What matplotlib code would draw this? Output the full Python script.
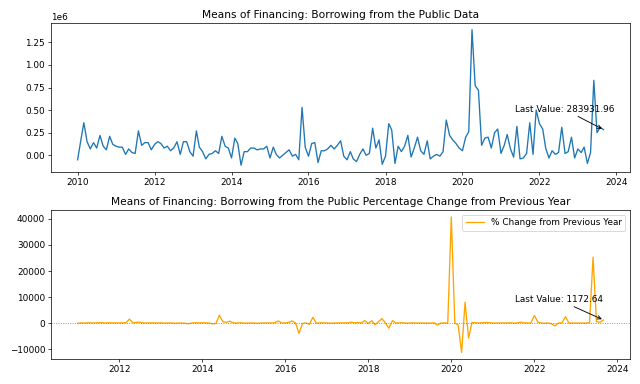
import numpy as np
import pandas as pd
import matplotlib
matplotlib.use("Agg")
import matplotlib.pyplot as plt

# valores (em milhoes), mensal de 2010-01 ate 2023-09
borrowing_mi = [
    -0.05, 0.17, 0.36, 0.15, 0.07, 0.14, 0.08, 0.22, 0.10, 0.06, 0.21, 0.12,  # 2010
    0.10, 0.09, 0.09, 0.01, 0.07, 0.03, 0.02, 0.27, 0.11, 0.14, 0.14, 0.06,    # 2011
    0.12, 0.15, 0.13, 0.08, 0.10, 0.05, 0.08, 0.15, 0.01, 0.15, 0.15, 0.04,    # 2012
    -0.01, 0.27, 0.09, 0.04, -0.04, 0.01, 0.02, 0.05, 0.02, 0.21, 0.10, 0.08,  # 2013
    -0.03, 0.19, 0.13, -0.11, 0.04, 0.04, 0.08, 0.08, 0.06, 0.07, 0.07, 0.10,  # 2014
    -0.03, 0.09, 0.01, -0.03, 0.00, 0.03, 0.06, -0.01, 0.01, -0.05, 0.53, 0.09,  # 2015
    -0.01, 0.13, 0.14, -0.08, 0.05, 0.05, 0.07, 0.11, 0.07, 0.11, 0.16, -0.01,  # 2016
    -0.05, 0.04, -0.04, -0.07, 0.01, 0.07, 0.00, 0.02, 0.30, 0.08, 0.17, -0.10,  # 2017
    -0.01, 0.35, 0.28, -0.09, 0.10, 0.04, 0.10, 0.22, -0.02, 0.08, 0.20, 0.05,  # 2018
    0.01, 0.16, -0.04, -0.01, 0.01, -0.01, 0.04, 0.39, 0.22, 0.17, 0.13, 0.08,  # 2019
    0.05, 0.20, 0.26, 1.39, 0.77, 0.72, 0.11, 0.19, 0.20, 0.08, 0.25, 0.29,    # 2020
    0.02, 0.11, 0.23, 0.07, -0.02, 0.32, -0.04, -0.03, 0.02, 0.36, 0.01, 0.50,  # 2021
    0.35, 0.29, 0.08, -0.03, 0.05, 0.01, 0.03, 0.31, 0.02, 0.04, 0.20, -0.03,  # 2022
    0.07, 0.03, 0.09, -0.09, 0.03, 0.83, 0.25, 0.31, 0.28393196,               # 2023
]

# variacao % em relacao ao ano anterior, mensal de 2011-01 ate 2023-09
pct_change = [
    -100, 50, -50, 100, 30, 20, 80, 150, 0, 100, 50, 20,            # 2011
    30, 60, 150, 1500, 80, 250, 300, 40, 10, 60, 100, -20,          # 2012
    50, 10, -30, 60, -80, -20, 10, -80, -300, 20, 90, 50,           # 2013
    100, 50, 0, -300, -200, 3000, 500, 300, 700, 50, 20, 100,       # 2014
    0, -50, 30, 0, -100, 20, 10, 0, 50, 80, 800, 30,                # 2015
    50, 200, 800, 0, -4000, -200, 0, -500, 2200, -100, 100, 50,     # 2016
    20, -100, 0, 50, 10, 100, 0, 300, 100, 200, 50, 900,            # 2017
    -200, 900, -700, 500, 1700, 0, -2000, 900, 0, 50, 100, -50,     # 2018
    0, 50, -20, 30, 0, 10, -50, 100, -800, 0, 50, 0,                # 2019
    40800, 0, -750, -11300, 8000, -5800, 200, 100, 0, 100, 200, 100,  # 2020
    0, 30, -20, 50, 0, 100, -50, 0, 300, 100, 0, 0,                 # 2021
    2900, 300, 0, -100, 50, -300, -1100, 0, 100, 2400, 0, 0,        # 2022
    0, 0, 0, 0, 100, 25300, 500, 300, 1172.64,                      # 2023
]

datas = pd.date_range("2010-01-01", periods=len(borrowing_mi), freq="MS")
datas_pct = pd.date_range("2011-01-01", periods=len(pct_change), freq="MS")
valores = np.array(borrowing_mi) * 1e6

fig, (ax1, ax2) = plt.subplots(2, 1, figsize=(10, 6), dpi=64)

ax1.plot(datas, valores, color="#1f77b4")
ax1.set_title("Means of Financing: Borrowing from the Public Data")
ax1.annotate(f"Last Value: {valores[-1]:.2f}", xy=(datas[-1], valores[-1]),
             xytext=(-100, 20), textcoords="offset points",
             arrowprops=dict(arrowstyle="->", color="black"))

ax2.plot(datas_pct, pct_change, color="orange", label="% Change from Previous Year")
ax2.axhline(0, color="gray", linestyle=":", linewidth=1)
ax2.set_title("Means of Financing: Borrowing from the Public Percentage Change from Previous Year")
ax2.annotate(f"Last Value: {pct_change[-1]:.2f}", xy=(datas_pct[-1], pct_change[-1]),
             xytext=(-100, 20), textcoords="offset points",
             arrowprops=dict(arrowstyle="->", color="black"))
ax2.legend(loc="upper right")

plt.tight_layout()
plt.savefig("out.png", dpi=64)
